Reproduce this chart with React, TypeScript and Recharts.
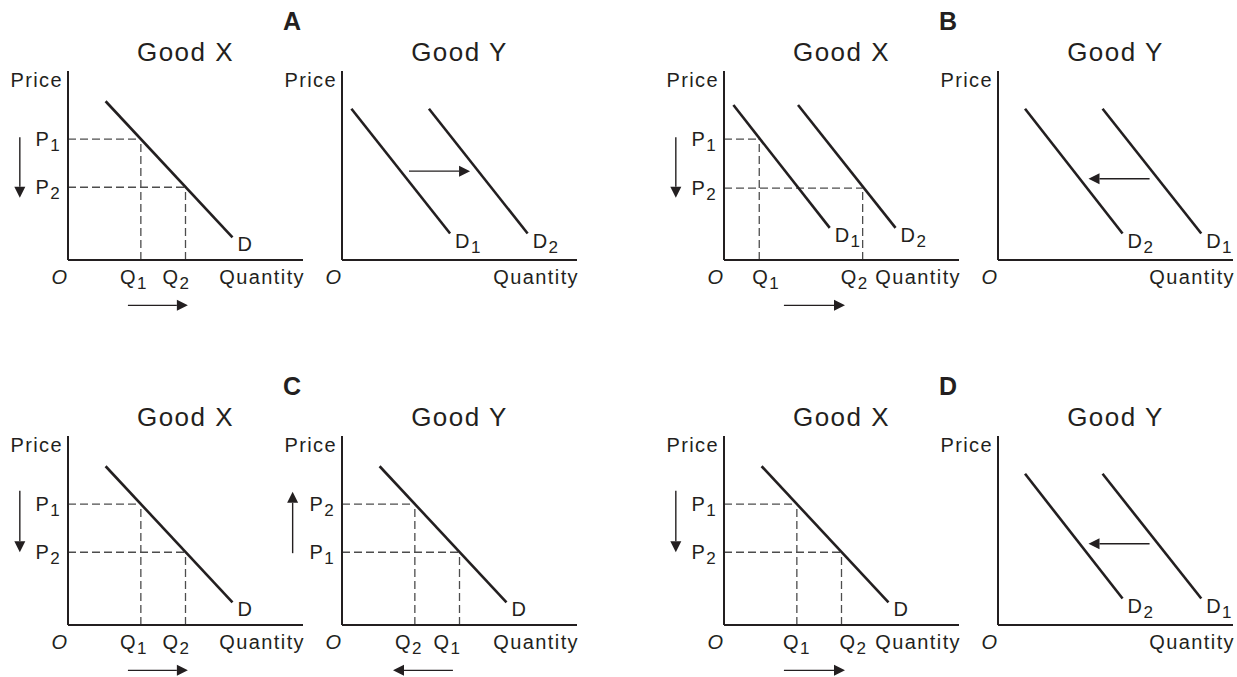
import React from 'react';
import { LineChart, Line, XAxis, YAxis, ReferenceLine, ReferenceDot } from 'recharts';

// ---- values (both axes run 0..10, unitless) ----

// single demand curve (Good X in A, C, D and Good Y in C)
const demandD = [{ q: 1.6, p: 8.4 }, { q: 7.0, p: 1.2 }];
const singlePrices = [6.4, 3.85]; // upper / lower price
const singleQtys = [3.1, 5.0]; // quantities bought at those prices

// A, Good Y: demand shifts right
const rightShiftD1 = [{ q: 0.4, p: 8.0 }, { q: 4.6, p: 1.4 }];
const rightShiftD2 = [{ q: 3.7, p: 8.0 }, { q: 7.9, p: 1.4 }];

// B, Good X: two curves, price falls and quantity jumps to D2
const bGoodXD1 = [{ q: 0.4, p: 8.2 }, { q: 4.5, p: 1.7 }];
const bGoodXD2 = [{ q: 3.15, p: 8.2 }, { q: 7.3, p: 1.7 }];
const bGoodXPrices = [6.4, 3.8];
const bGoodXQtys = [1.5, 5.9];

// B and D, Good Y: demand shifts left
const leftShiftD1 = [{ q: 4.45, p: 8.0 }, { q: 8.65, p: 1.4 }];
const leftShiftD2 = [{ q: 1.15, p: 8.0 }, { q: 5.3, p: 1.4 }];

// arrows (start -> head), in axis units
const downArrowTop = [{ q: -2.05, p: 6.5 }, { q: -2.05, p: 3.3 }];
const downArrowBottom = [{ q: -2.05, p: 7.1 }, { q: -2.05, p: 3.85 }];
const upArrowC = [{ q: -2.1, p: 3.8 }, { q: -2.1, p: 7.05 }];
const qtyArrowA = [{ q: 2.55, p: -2.4 }, { q: 5.1, p: -2.4 }];
const qtyArrowB = [{ q: 2.55, p: -2.4 }, { q: 5.15, p: -2.4 }];
const qtyArrowLeftC = [{ q: 4.72, p: -2.4 }, { q: 2.17, p: -2.4 }];
const rightShiftArrow = [{ q: 2.85, p: 4.7 }, { q: 5.45, p: 4.7 }];
const leftShiftArrow = [{ q: 6.45, p: 4.3 }, { q: 3.85, p: 4.3 }];

const INK = '#231f20';
const FONT = '"Liberation Sans", Arial, Helvetica, sans-serif';
const PLOT_W = 235;
const PLOT_H = 189;
const AXIS_W = 68;
const TOP_M = 40;
const BOTTOM_H = 52;

type Pt = { q: number; p: number };
type Curve = { data: Pt[]; name: string; sub?: string };
type TickLabel = { v: number; main: string; sub?: string; dx?: number; italic?: boolean };
type Panel = {
  title: string;
  left: number;
  top: number;
  curves: Curve[];
  pLabels?: TickLabel[];
  qLabels?: TickLabel[];
  guides?: Pt[];
  arrows?: Pt[][];
};

const Sym = ({ x, y, main, sub, anchor = 'start', italic = false }: any) => (
  <text
    x={x}
    y={y}
    textAnchor={anchor}
    fill={INK}
    fontFamily={FONT}
    fontSize={20}
    fontStyle={italic ? 'italic' : 'normal'}
    style={{ letterSpacing: 1.4 }}
  >
    {main}
    {sub && (
      <tspan fontSize={17} dy={5}>
        {sub}
      </tspan>
    )}
  </text>
);

const arrowShape = (props: any) => {
  const { x1, y1, x2, y2 } = props;
  const a = Math.atan2(y2 - y1, x2 - x1);
  const len = 11;
  const half = 5.5;
  const bx = x2 - len * Math.cos(a);
  const by = y2 - len * Math.sin(a);
  const pts = [
    [x2, y2],
    [bx - half * Math.sin(a), by + half * Math.cos(a)],
    [bx + half * Math.sin(a), by - half * Math.cos(a)],
  ]
    .map((p) => p.join(','))
    .join(' ');
  return (
    <g>
      <line x1={x1} y1={y1} x2={bx} y2={by} stroke={INK} strokeWidth={1.4} />
      <polygon points={pts} fill={INK} />
    </g>
  );
};

const origin: TickLabel = { v: 0, main: 'O', italic: true, dx: -8 };

const ROW1 = 71;
const ROW2 = 436;

const panels: Panel[] = [
  {
    title: 'Good X',
    left: 68,
    top: ROW1,
    curves: [{ data: demandD, name: 'D' }],
    pLabels: [
      { v: singlePrices[0], main: 'P', sub: '1' },
      { v: singlePrices[1], main: 'P', sub: '2' },
    ],
    qLabels: [origin, { v: singleQtys[0], main: 'Q', sub: '1', dx: -7 }, { v: singleQtys[1], main: 'Q', sub: '2', dx: -9 }],
    guides: [
      { q: singleQtys[0], p: singlePrices[0] },
      { q: singleQtys[1], p: singlePrices[1] },
    ],
    arrows: [downArrowTop, qtyArrowA],
  },
  {
    title: 'Good Y',
    left: 342,
    top: ROW1,
    curves: [
      { data: rightShiftD1, name: 'D', sub: '1' },
      { data: rightShiftD2, name: 'D', sub: '2' },
    ],
    qLabels: [origin],
    arrows: [rightShiftArrow],
  },
  {
    title: 'Good X',
    left: 724,
    top: ROW1,
    curves: [
      { data: bGoodXD1, name: 'D', sub: '1' },
      { data: bGoodXD2, name: 'D', sub: '2' },
    ],
    pLabels: [
      { v: bGoodXPrices[0], main: 'P', sub: '1' },
      { v: bGoodXPrices[1], main: 'P', sub: '2' },
    ],
    qLabels: [origin, { v: bGoodXQtys[0], main: 'Q', sub: '1', dx: 7 }, { v: bGoodXQtys[1], main: 'Q', sub: '2', dx: -8 }],
    guides: [
      { q: bGoodXQtys[0], p: bGoodXPrices[0] },
      { q: bGoodXQtys[1], p: bGoodXPrices[1] },
    ],
    arrows: [downArrowTop, qtyArrowB],
  },
  {
    title: 'Good Y',
    left: 998,
    top: ROW1,
    curves: [
      { data: leftShiftD2, name: 'D', sub: '2' },
      { data: leftShiftD1, name: 'D', sub: '1' },
    ],
    qLabels: [origin],
    arrows: [leftShiftArrow],
  },
  {
    title: 'Good X',
    left: 68,
    top: ROW2,
    curves: [{ data: demandD, name: 'D' }],
    pLabels: [
      { v: singlePrices[0], main: 'P', sub: '1' },
      { v: singlePrices[1], main: 'P', sub: '2' },
    ],
    qLabels: [origin, { v: singleQtys[0], main: 'Q', sub: '1', dx: -7 }, { v: singleQtys[1], main: 'Q', sub: '2', dx: -9 }],
    guides: [
      { q: singleQtys[0], p: singlePrices[0] },
      { q: singleQtys[1], p: singlePrices[1] },
    ],
    arrows: [downArrowBottom, qtyArrowA],
  },
  {
    title: 'Good Y',
    left: 342,
    top: ROW2,
    curves: [{ data: demandD, name: 'D' }],
    pLabels: [
      { v: singlePrices[0], main: 'P', sub: '2' },
      { v: singlePrices[1], main: 'P', sub: '1' },
    ],
    qLabels: [origin, { v: singleQtys[0], main: 'Q', sub: '2', dx: -6 }, { v: singleQtys[1], main: 'Q', sub: '1', dx: -12 }],
    guides: [
      { q: singleQtys[0], p: singlePrices[0] },
      { q: singleQtys[1], p: singlePrices[1] },
    ],
    arrows: [upArrowC, qtyArrowLeftC],
  },
  {
    title: 'Good X',
    left: 724,
    top: ROW2,
    curves: [{ data: demandD, name: 'D' }],
    pLabels: [
      { v: singlePrices[0], main: 'P', sub: '1' },
      { v: singlePrices[1], main: 'P', sub: '2' },
    ],
    qLabels: [origin, { v: singleQtys[0], main: 'Q', sub: '1', dx: 0 }, { v: singleQtys[1], main: 'Q', sub: '2', dx: 12 }],
    guides: [
      { q: singleQtys[0], p: singlePrices[0] },
      { q: singleQtys[1], p: singlePrices[1] },
    ],
    arrows: [downArrowBottom, qtyArrowB],
  },
  {
    title: 'Good Y',
    left: 998,
    top: ROW2,
    curves: [
      { data: leftShiftD2, name: 'D', sub: '2' },
      { data: leftShiftD1, name: 'D', sub: '1' },
    ],
    qLabels: [origin],
    arrows: [leftShiftArrow],
  },
];

const letters = [
  { t: 'A', x: 292, y: 30 },
  { t: 'B', x: 948, y: 30 },
  { t: 'C', x: 292, y: 395 },
  { t: 'D', x: 948, y: 395 },
];

const PanelChart = ({ cfg }: { cfg: Panel }) => {
  const qLabels = cfg.qLabels || [];
  const pLabels = cfg.pLabels || [];
  return (
    <LineChart
      width={AXIS_W + PLOT_W + 4}
      height={TOP_M + PLOT_H + BOTTOM_H}
      margin={{ top: TOP_M, right: 4, bottom: 0, left: 0 }}
      style={{ position: 'absolute', left: cfg.left - AXIS_W, top: cfg.top - TOP_M }}
    >
      <XAxis
        type="number"
        dataKey="q"
        domain={[0, 10]}
        ticks={qLabels.map((t) => t.v)}
        interval={0}
        tickSize={0}
        tickMargin={0}
        tickLine={false}
        height={BOTTOM_H}
        axisLine={{ stroke: INK, strokeWidth: 2 }}
        tick={(props: any) => {
          const t = qLabels.find((l) => l.v === props.payload.value);
          if (!t) return <g />;
          return <Sym x={props.x + (t.dx || 0)} y={props.y + 24} main={t.main} sub={t.sub} anchor="middle" italic={t.italic} />;
        }}
        label={{
          content: (props: any) => {
            const vb = props.viewBox;
            return <Sym x={vb.x + vb.width + 2} y={vb.y + 24} main="Quantity" anchor="end" />;
          },
        }}
      />
      <YAxis
        type="number"
        domain={[0, 10]}
        width={AXIS_W}
        ticks={pLabels.map((t) => t.v)}
        interval={0}
        tickSize={0}
        tickMargin={0}
        tickLine={false}
        axisLine={{ stroke: INK, strokeWidth: 2 }}
        tick={(props: any) => {
          const t = pLabels.find((l) => l.v === props.payload.value);
          if (!t) return <g />;
          return <Sym x={props.x - 7} y={props.y + 7} main={t.main} sub={t.sub} anchor="end" />;
        }}
        label={{
          content: (props: any) => {
            const vb = props.viewBox;
            return <Sym x={vb.x + vb.width - 5} y={vb.y + 16} main="Price" anchor="end" />;
          },
        }}
      />
      {(cfg.guides || []).map((g, i) => (
        <ReferenceLine
          key={`gh${i}`}
          segment={[{ x: 0, y: g.p }, { x: g.q, y: g.p }]}
          stroke="#4d4d4d"
          strokeWidth={1.3}
          strokeDasharray="8 4"
        />
      ))}
      {(cfg.guides || []).map((g, i) => (
        <ReferenceLine
          key={`gv${i}`}
          segment={[{ x: g.q, y: 0 }, { x: g.q, y: g.p }]}
          stroke="#4d4d4d"
          strokeWidth={1.3}
          strokeDasharray="8 4"
        />
      ))}
      {cfg.curves.map((c, i) => (
        <Line
          key={`c${i}`}
          data={c.data}
          dataKey="p"
          type="linear"
          stroke={INK}
          strokeWidth={2.6}
          dot={false}
          activeDot={false}
          isAnimationActive={false}
        />
      ))}
      {cfg.curves.map((c, i) => {
        const end = c.data[c.data.length - 1];
        return (
          <ReferenceDot
            key={`cl${i}`}
            x={end.q}
            y={end.p}
            r={0}
            fill="none"
            stroke="none"
            ifOverflow="visible"
            label={{
              content: (props: any) => {
                const vb = props.viewBox;
                return <Sym x={vb.x + 5} y={vb.y + 14} main={c.name} sub={c.sub} />;
              },
            }}
          />
        );
      })}
      {(cfg.arrows || []).map((a, i) => (
        <ReferenceLine
          key={`a${i}`}
          segment={[{ x: a[0].q, y: a[0].p }, { x: a[1].q, y: a[1].p }]}
          ifOverflow="visible"
          shape={arrowShape}
        />
      ))}
    </LineChart>
  );
};

export default function App() {
  return (
    <div
      style={{
        position: 'absolute',
        left: 0,
        top: 0,
        width: 1237,
        height: 677,
        overflow: 'hidden',
        background: '#fff',
      }}
    >
      {panels.map((cfg, i) => (
        <PanelChart key={i} cfg={cfg} />
      ))}
      <svg width={1237} height={677} style={{ position: 'absolute', left: 0, top: 0, pointerEvents: 'none' }}>
        {panels.map((cfg, i) => (
          <text
            key={`t${i}`}
            x={cfg.left + PLOT_W / 2}
            y={cfg.top - 10}
            textAnchor="middle"
            fill={INK}
            fontFamily={FONT}
            fontSize={26}
            style={{ letterSpacing: 1.5 }}
          >
            {cfg.title}
          </text>
        ))}
        {letters.map((l) => (
          <text key={l.t} x={l.x} y={l.y} textAnchor="middle" fill={INK} fontFamily={FONT} fontSize={25} fontWeight="bold">
            {l.t}
          </text>
        ))}
      </svg>
    </div>
  );
}
